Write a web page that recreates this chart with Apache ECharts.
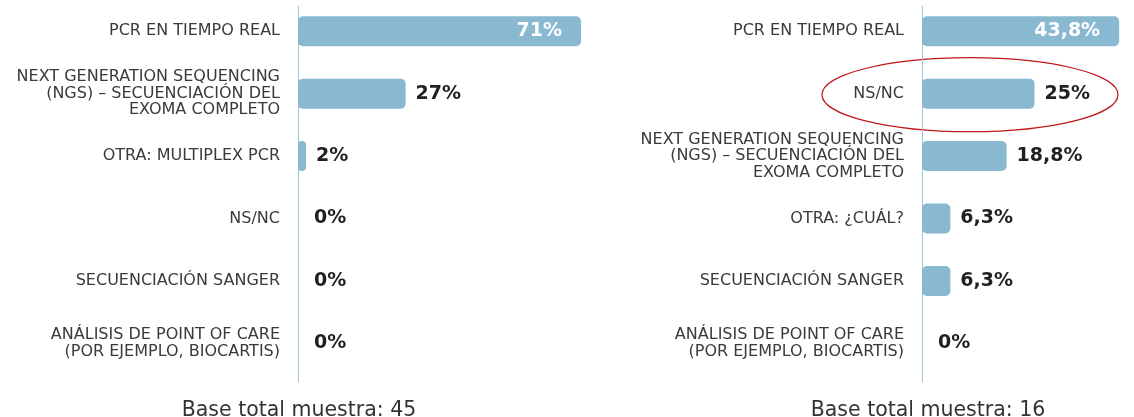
<!DOCTYPE html>
<html>
<head>
<meta charset="utf-8">
<script src="https://cdn.jsdelivr.net/npm/echarts@6/dist/echarts.min.js"></script>
<style>
html,body{margin:0;padding:0;background:#fff;}
#c{width:1134px;height:417px;}
</style>
</head>
<body>
<div id="c"></div>
<script>
// ---- data ----
var leftCategories = [
  'PCR EN TIEMPO REAL',
  'NEXT GENERATION SEQUENCING\n(NGS) – SECUENCIACIÓN DEL\nEXOMA COMPLETO',
  'OTRA: MULTIPLEX PCR',
  'NS/NC',
  'SECUENCIACIÓN SANGER',
  'ANÁLISIS DE POINT OF CARE\n(POR EJEMPLO, BIOCARTIS)'
];
var leftValues = [71, 27, 2, 0, 0, 0];
var leftBase = 'Base total muestra: 45';

var rightCategories = [
  'PCR EN TIEMPO REAL',
  'NS/NC',
  'NEXT GENERATION SEQUENCING\n(NGS) – SECUENCIACIÓN DEL\nEXOMA COMPLETO',
  'OTRA: ¿CUÁL?',
  'SECUENCIACIÓN SANGER',
  'ANÁLISIS DE POINT OF CARE\n(POR EJEMPLO, BIOCARTIS)'
];
var rightValues = [43.8, 25, 18.8, 6.3, 6.3, 0];
var rightBase = 'Base total muestra: 16';
var highlightCategory = 'NS/NC';

// ---- style ----
var FONT = '"DejaVu Sans", sans-serif';
var BAR = '#88b9d1';
var AXIS = '#9cc4da';

function fmt(v){ return String(v).replace('.', ',') + '%'; }

function buildData(vals){
  var maxV = Math.max.apply(null, vals);
  return vals.map(function(v){
    var item = {value: v};
    if (v === maxV) {
      item.label = {position: 'insideRight', distance: 19, color: '#ffffff'};
    } else if (v === 0) {
      item.label = {distance: 16};
    }
    return item;
  });
}

var chart = echarts.init(document.getElementById('c'), null, {renderer: 'canvas'});

var gridH = 378.6;
function catAxis(gi, cats, showLabels, showLine){
  return {
    type: 'category', gridIndex: gi, data: cats, inverse: true,
    axisLine: {show: showLine, lineStyle: {color: AXIS, width: 1}},
    axisTick: {show: false},
    axisLabel: {show: showLabels, margin: 18, align: 'right',
      fontFamily: FONT, fontSize: 16, lineHeight: 16.5, color: '#3a3a3a'}
  };
}
function valAxis(gi, max){
  return {type: 'value', gridIndex: gi, min: 0, max: max, show: false};
}
function barSeries(xi, yi, vals){
  return {
    type: 'bar', xAxisIndex: xi, yAxisIndex: yi,
    data: buildData(vals), barWidth: 30,
    itemStyle: {color: BAR, borderRadius: 5},
    label: {show: true, position: 'right', distance: 10,
      fontFamily: FONT, fontWeight: 'bold', fontSize: 19, color: '#231f20',
      formatter: function(p){ return fmt(p.value); }},
    silent: true, animation: false
  };
}

var option = {
  animation: false,
  grid: [
    {left: 298, top: -4, width: 398.6, height: gridH},
    {left: 922, top: -4, width: 212, height: gridH},
    {left: 298, top: 6, width: 100, height: 376},
    {left: 922, top: 6, width: 100, height: 376}
  ],
  xAxis: [valAxis(0, 100), valAxis(1, 47.1), valAxis(2, 100), valAxis(3, 100)],
  yAxis: [
    catAxis(0, leftCategories, true, false),
    catAxis(1, rightCategories, true, false),
    catAxis(2, leftCategories, false, true),
    catAxis(3, rightCategories, false, true)
  ],
  title: [
    {text: leftBase, left: 294, top: 395, textAlign: 'center',
      textStyle: {fontFamily: FONT, fontWeight: 'normal', fontSize: 20.5, color: '#333333'}},
    {text: rightBase, left: 923, top: 395, textAlign: 'center',
      textStyle: {fontFamily: FONT, fontWeight: 'normal', fontSize: 20.5, color: '#333333'}}
  ],
  series: [
    barSeries(0, 0, leftValues),
    barSeries(1, 1, rightValues)
  ]
};
chart.setOption(option);

// highlight ellipse around the chosen category on the right chart
var p = chart.convertToPixel({gridIndex: 1}, [0, highlightCategory]);
chart.setOption({
  graphic: [{
    type: 'ellipse', silent: true,
    shape: {cx: p[0] + 48, cy: p[1] + 1, rx: 148, ry: 37},
    style: {fill: 'none', stroke: '#c0171d', lineWidth: 1.2}
  }]
});
</script>
</body>
</html>
